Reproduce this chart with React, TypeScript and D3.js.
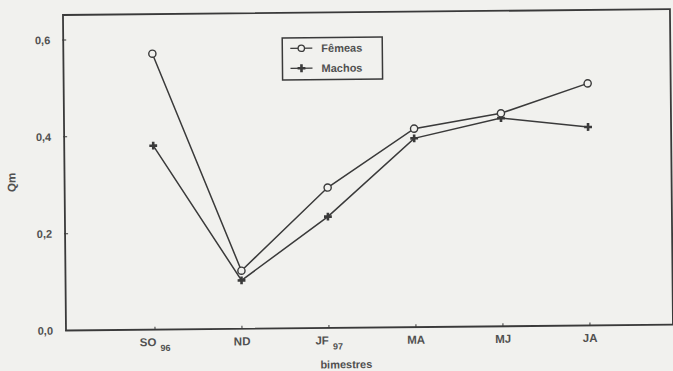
import React from "react";
import * as d3 from "d3";

// Bimonthly periods
const periods = ["SO", "ND", "JF", "MA", "MJ", "JA"];
const periodSubs = ["96", "", "97", "", "", ""];
// Qm by sex
const femeas = [0.57, 0.12, 0.29, 0.41, 0.44, 0.5];
const machos = [0.38, 0.1, 0.23, 0.39, 0.43, 0.41];
const yTicks = [0, 0.2, 0.4, 0.6];
const yTickLabels = ["0,0", "0,2", "0,4", "0,6"];

const W = 673;
const H = 371;
const frame = { left: 66, right: 673, top: 15, bottom: 330.5 };
const ink = "#3a3a3a";
const paper = "#f1f1ee";
const labelInk = "#505050";
const font = "'Liberation Sans', Arial, sans-serif";

export default function App() {
  const x = d3.scaleLinear().domain([0, 5]).range([155, 590]);
  const y = d3.scaleLinear().domain([0, 0.6]).range([frame.bottom, 40]);
  const line = d3
    .line<number>()
    .x((_, i) => x(i))
    .y((d) => y(d));
  const cross = d3.symbol().type(d3.symbolCross).size(34)() as string;

  return (
    <svg
      width={W}
      height={H}
      style={{ position: "absolute", left: 0, top: 0 }}
      fontFamily={font}
    >
      <rect width={W} height={H} fill={paper} />
      <g transform={`rotate(-0.55, ${frame.left}, ${frame.bottom})`}>
        {/* plot frame */}
        <rect
          x={frame.left}
          y={frame.top}
          width={frame.right - frame.left}
          height={frame.bottom - frame.top}
          fill="none"
          stroke={ink}
          strokeWidth={1.8}
        />
        {/* y axis ticks and labels */}
        {yTicks.map((t, i) => (
          <g key={t}>
            <line
              x1={frame.left - 1}
              x2={frame.left + 3}
              y1={y(t)}
              y2={y(t)}
              stroke={ink}
              strokeWidth={1}
            />
            <text
              x={53}
              y={y(t) + 4}
              textAnchor="end"
              fontSize={11}
              fontWeight="bold"
              fill={labelInk}
            >
              {yTickLabels[i]}
            </text>
          </g>
        ))}
        <text
          transform={`translate(17, 182) rotate(-90)`}
          textAnchor="middle"
          fontSize={11.5}
          fontWeight="bold"
          fill={labelInk}
        >
          Qm
        </text>
        {/* x axis ticks and labels */}
        {periods.map((p, i) => (
          <g key={p}>
            <line
              x1={x(i)}
              x2={x(i)}
              y1={frame.bottom}
              y2={frame.bottom - 3}
              stroke={ink}
              strokeWidth={1}
            />
            <text
              x={x(i)}
              y={347}
              textAnchor="middle"
              fontSize={11.5}
              fontWeight="bold"
              fill={labelInk}
            >
              {p}
              {periodSubs[i] && (
                <tspan fontSize={9} dx={4} dy={5}>
                  {periodSubs[i]}
                </tspan>
              )}
            </text>
          </g>
        ))}
        <text
          x={346}
          y={371}
          textAnchor="middle"
          fontSize={11}
          fontWeight="bold"
          fill={labelInk}
        >
          bimestres
        </text>
        {/* series */}
        <path d={line(machos) ?? ""} fill="none" stroke={ink} strokeWidth={1.5} />
        <path d={line(femeas) ?? ""} fill="none" stroke={ink} strokeWidth={1.5} />
        {machos.map((v, i) => (
          <path
            key={"m" + i}
            d={cross}
            transform={`translate(${x(i)}, ${y(v)})`}
            fill={ink}
          />
        ))}
        {femeas.map((v, i) => (
          <circle
            key={"f" + i}
            cx={x(i)}
            cy={y(v)}
            r={3.6}
            fill={paper}
            stroke={ink}
            strokeWidth={1.4}
          />
        ))}
        {/* legend */}
        <g>
          <rect
            x={285}
            y={40}
            width={100}
            height={42}
            fill={paper}
            stroke={ink}
            strokeWidth={1.5}
          />
          <line x1={293} x2={315} y1={50.5} y2={50.5} stroke={ink} strokeWidth={1.3} />
          <circle cx={304} cy={50.5} r={3.2} fill={paper} stroke={ink} strokeWidth={1.3} />
          <text x={324} y={54.5} fontSize={11} fontWeight="bold" fill={labelInk}>
            Fêmeas
          </text>
          <line x1={293} x2={315} y1={70.5} y2={70.5} stroke={ink} strokeWidth={1.3} />
          <path d={cross} transform="translate(304, 70.5)" fill={ink} />
          <text x={324} y={74.5} fontSize={11} fontWeight="bold" fill={labelInk}>
            Machos
          </text>
        </g>
      </g>
    </svg>
  );
}
